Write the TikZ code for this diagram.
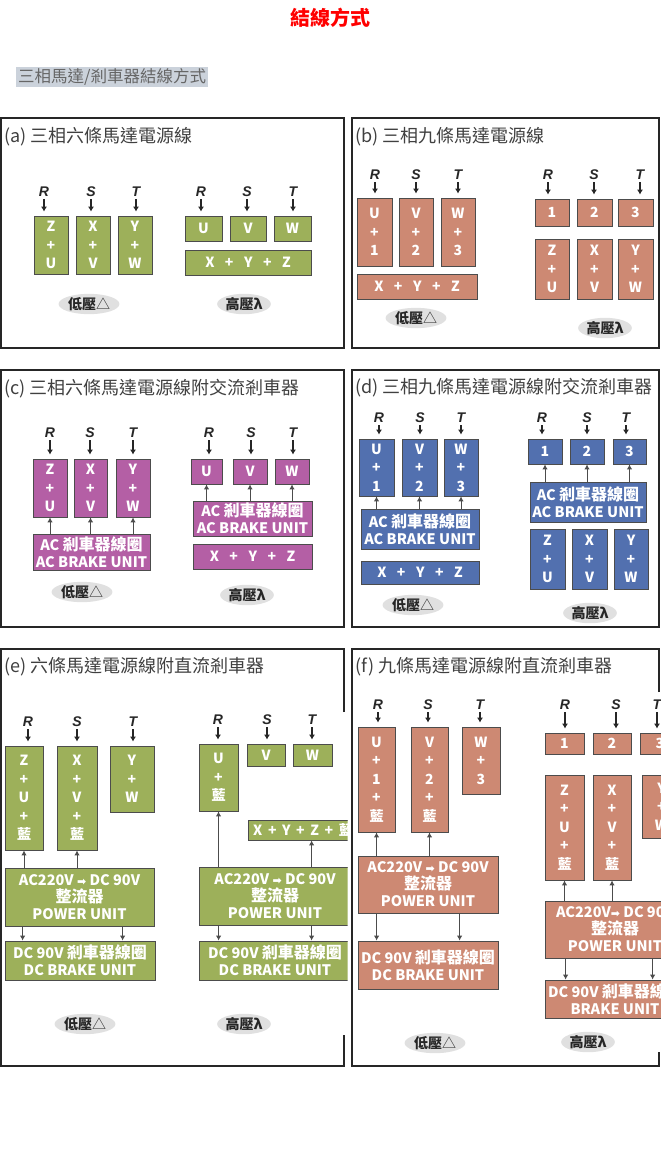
\documentclass[tikz,border=0pt]{standalone}
\usepackage{fontspec}
\usetikzlibrary{arrows.meta,shapes.geometric}
\newfontfamily\cjk{Noto Sans CJK TC}
\newfontfamily\lat{Liberation Sans}
\newfontfamily\dvs{DejaVu Sans}
\definecolor{cgreen}{HTML}{9DB05A}
\definecolor{csalmon}{HTML}{CD8973}
\definecolor{cpurple}{HTML}{B45FA5}
\definecolor{cblue}{HTML}{5270AF}
\definecolor{chl}{HTML}{CBD2DB}
\newcommand\bigzh[1]{{\fontsize{16}{16}\selectfont #1}}
\newcommand\rarr{{\dvs\fontsize{11}{11}\selectfont ➡}}
\newcommand\wgap{\hspace{0.75em}}
\newcommand\ngap{\hspace{0.4em}}
\newcommand\lowtag{{\bfseries 低壓}△}
\newcommand\hightag{{\bfseries 高壓λ}}
\tikzset{
 box/.style={draw=black!70, line width=0.8pt, text=white, font=\cjk\bfseries\fontsize{14}{18.5}\selectfont, align=center, inner sep=0pt},
 gbox/.style={box, fill=cgreen},
 sbox/.style={box, fill=csalmon},
 pbox/.style={box, fill=cpurple},
 bbox/.style={box, fill=cblue},
 unitfont/.style={font=\cjk\bfseries\fontsize{14.5}{17}\selectfont},
 phase/.style={font=\lat\bfseries\itshape\fontsize{14}{14}\selectfont, text=black!85, inner sep=1pt},
 arr/.style={draw=black!70, line width=1pt, -{Latex[length=5pt,width=5.5pt]}},
 feed/.style={draw=black!85, line width=1.4pt, -{Latex[length=5pt,width=6pt]}, shorten >=4pt, shorten <=1pt},
 tag/.style={ellipse, fill=black!12, inner sep=0.5pt, font=\cjk\fontsize{14}{14}\selectfont, text=black!85},
 ptitle/.style={anchor=west, font=\cjk\fontsize{18}{18}\selectfont, text=black!75, inner sep=0pt},
 frame/.style={draw=black!85, line width=1.3pt},
}
\begin{document}
\begin{tikzpicture}[x=1pt,y=-1pt]
\useasboundingbox (0,0) rectangle (661,1170);
\fill[white] (0,0) rectangle (661,1170);

% headings
\node[font=\cjk\bfseries\fontsize{20}{20}\selectfont, text=red] (head) at (330,18) {結線方式};
\node[anchor=west, fill=chl, inner sep=2pt, font=\cjk\fontsize{16.5}{16.5}\selectfont, text=black!60] (sub) at (16,77) {三相馬達/剎車器結線方式};

% frames
\draw[frame] (1,118) rectangle (344,348);
\draw[frame] (352,118) rectangle (659,348);
\draw[frame] (1,370) rectangle (344,627);
\draw[frame] (352,370) rectangle (659,627);
\draw[frame] (344,712) -- (344,649) -- (1,649) -- (1,1066) -- (344,1066) -- (344,1035);
\draw[frame] (659,692) -- (659,649) -- (352,649) -- (352,1066) -- (659,1066) -- (659,1052);

%================ (a)
\node[ptitle] (ta) at (4,137) {(a)\ 三相六條馬達電源線};
\node[phase] (aR1) at (44,192) {R};
\node[phase] (aS1) at (91,192) {S};
\node[phase] (aT1) at (136,192) {T};
\node[gbox, minimum width=34pt, minimum height=58pt] (aZU) at (51,245) {Z\\+\\U};
\node[gbox, minimum width=34pt, minimum height=58pt] (aXV) at (93,245) {X\\+\\V};
\node[gbox, minimum width=34pt, minimum height=58pt] (aYW) at (135,245) {Y\\+\\W};
\node[phase] (aR2) at (201,192) {R};
\node[phase] (aS2) at (247,192) {S};
\node[phase] (aT2) at (293,192) {T};
\node[gbox, minimum width=37pt, minimum height=25pt] (aU) at (203.5,228.5) {U};
\node[gbox, minimum width=36pt, minimum height=25pt] (aV) at (248,228.5) {V};
\node[gbox, minimum width=37pt, minimum height=25pt] (aW) at (292.5,228.5) {W};
\node[gbox, minimum width=126pt, minimum height=25pt] (aXYZ) at (248,262.5) {X\wgap+\wgap Y\wgap+\wgap Z};
\node[tag] (aLow) at (89,304) {\lowtag};
\node[tag] (aHigh) at (244,304) {\hightag};
\foreach \l/\b in {aR1/aZU,aS1/aXV,aT1/aYW,aR2/aU,aS2/aV,aT2/aW}
  \draw[feed] (\l.south) -- (\l.south |- \b.north);

%================ (b)
\node[ptitle] (tb) at (355,137) {(b)\ 三相九條馬達電源線};
\node[phase] (bR1) at (375,175) {R};
\node[phase] (bS1) at (416,175) {S};
\node[phase] (bT1) at (458,175) {T};
\node[sbox, minimum width=35pt, minimum height=68pt] (bU1) at (374.5,232) {U\\+\\1};
\node[sbox, minimum width=34pt, minimum height=68pt] (bV2) at (416,232) {V\\+\\2};
\node[sbox, minimum width=34pt, minimum height=68pt] (bW3) at (458,232) {W\\+\\3};
\node[sbox, minimum width=120pt, minimum height=25pt] (bXYZ) at (417,286.5) {X\wgap+\wgap Y\wgap+\wgap Z};
\node[phase] (bR2) at (548,175) {R};
\node[phase] (bS2) at (594,175) {S};
\node[phase] (bT2) at (640,175) {T};
\node[sbox, minimum width=34pt, minimum height=27pt] (b1) at (552,212.5) {1};
\node[sbox, minimum width=35pt, minimum height=27pt] (b2) at (594.5,212.5) {2};
\node[sbox, minimum width=35pt, minimum height=27pt] (b3) at (635.5,212.5) {3};
\node[sbox, minimum width=34pt, minimum height=60pt] (bZU) at (552,269) {Z\\+\\U};
\node[sbox, minimum width=35pt, minimum height=60pt] (bXV) at (594.5,269) {X\\+\\V};
\node[sbox, minimum width=35pt, minimum height=60pt] (bYW) at (635.5,269) {Y\\+\\W};
\node[tag] (bLow) at (416,318) {\lowtag};
\node[tag] (bHigh) at (605,328) {\hightag};
\foreach \l/\b in {bR1/bU1,bS1/bV2,bT1/bW3,bR2/b1,bS2/b2,bT2/b3}
  \draw[feed] (\l.south) -- (\l.south |- \b.north);

%================ (c)
\node[ptitle] (tc) at (4,389) {(c)\ 三相六條馬達電源線附交流剎車器};
\node[phase] (cR1) at (50,433) {R};
\node[phase] (cS1) at (90,433) {S};
\node[phase] (cT1) at (133,433) {T};
\node[pbox, minimum width=34pt, minimum height=58pt] (cZU) at (50,488) {Z\\+\\U};
\node[pbox, minimum width=33pt, minimum height=58pt] (cXV) at (90.5,488) {X\\+\\V};
\node[pbox, minimum width=34pt, minimum height=58pt] (cYW) at (133,488) {Y\\+\\W};
\node[pbox, unitfont, minimum width=117pt, minimum height=36pt] (cBrk) at (91.5,552) {AC \bigzh{剎車器線圈}\\AC BRAKE UNIT};
\node[phase] (cR2) at (209,433) {R};
\node[phase] (cS2) at (251,433) {S};
\node[phase] (cT2) at (293,433) {T};
\node[pbox, minimum width=31pt, minimum height=25pt] (cU) at (206.5,471.5) {U};
\node[pbox, minimum width=34pt, minimum height=25pt] (cV) at (250,471.5) {V};
\node[pbox, minimum width=34pt, minimum height=25pt] (cW) at (292,471.5) {W};
\node[pbox, unitfont, minimum width=119pt, minimum height=35pt] (cBrk2) at (252.5,518.5) {AC \bigzh{剎車器線圈}\\AC BRAKE UNIT};
\node[pbox, minimum width=119pt, minimum height=25pt] (cXYZ) at (252.5,556.5) {X\wgap+\wgap Y\wgap+\wgap Z};
\node[tag] (cLow) at (82,592) {\lowtag};
\node[tag] (cHigh) at (247,595) {\hightag};
\foreach \l/\b in {cR1/cZU,cS1/cXV,cT1/cYW,cR2/cU,cS2/cV,cT2/cW}
  \draw[feed] (\l.south) -- (\l.south |- \b.north);
\foreach \b in {cZU,cXV,cYW}
  \draw[arr] (\b.south |- cBrk.north) -- (\b.south);
\foreach \b in {cU,cV,cW}
  \draw[arr] (\b.south |- cBrk2.north) -- (\b.south);

%================ (d)
\node[ptitle] (td) at (355,388) {(d)\ 三相九條馬達電源線附交流剎車器};
\node[phase] (dR1) at (379,418) {R};
\node[phase] (dS1) at (420,418) {S};
\node[phase] (dT1) at (461,418) {T};
\node[bbox, minimum width=35pt, minimum height=57pt] (dU1) at (376.5,467.5) {U\\+\\1};
\node[bbox, minimum width=35pt, minimum height=57pt] (dV2) at (419.5,467.5) {V\\+\\2};
\node[bbox, minimum width=34pt, minimum height=57pt] (dW3) at (461,467.5) {W\\+\\3};
\node[bbox, unitfont, minimum width=118pt, minimum height=40pt] (dBrk) at (420,529) {AC \bigzh{剎車器線圈}\\AC BRAKE UNIT};
\node[bbox, minimum width=118pt, minimum height=23pt] (dXYZ) at (420,572.5) {X\wgap+\wgap Y\wgap+\wgap Z};
\node[phase] (dR2) at (542,418) {R};
\node[phase] (dS2) at (587,418) {S};
\node[phase] (dT2) at (626,418) {T};
\node[bbox, minimum width=34pt, minimum height=25pt] (d1) at (545,451.5) {1};
\node[bbox, minimum width=34pt, minimum height=25pt] (d2) at (587,451.5) {2};
\node[bbox, minimum width=33pt, minimum height=25pt] (d3) at (629.5,451.5) {3};
\node[bbox, unitfont, minimum width=116pt, minimum height=40pt] (dBrk2) at (588,502) {AC \bigzh{剎車器線圈}\\AC BRAKE UNIT};
\node[bbox, minimum width=35pt, minimum height=60pt] (dZU) at (547.5,559) {Z\\+\\U};
\node[bbox, minimum width=35pt, minimum height=60pt] (dXV) at (589.5,559) {X\\+\\V};
\node[bbox, minimum width=34pt, minimum height=60pt] (dYW) at (631,559) {Y\\+\\W};
\node[tag] (dLow) at (413,605) {\lowtag};
\node[tag] (dHigh) at (590,613) {\hightag};
\foreach \l/\b in {dR1/dU1,dS1/dV2,dT1/dW3,dR2/d1,dS2/d2,dT2/d3}
  \draw[feed] (\l.south) -- (\l.south |- \b.north);
\foreach \b in {dU1,dV2,dW3}
  \draw[arr] (\b.south |- dBrk.north) -- (\b.south);
\foreach \b in {d1,d2,d3}
  \draw[arr] (\b.south |- dBrk2.north) -- (\b.south);

%================ (e)
\node[ptitle] (te) at (4,667) {(e)\ 六條馬達電源線附直流剎車器};
\node[phase] (eR1) at (28,722) {R};
\node[phase] (eS1) at (77,722) {S};
\node[phase] (eT1) at (133,722) {T};
\node[gbox, minimum width=38pt, minimum height=104pt] (eZU) at (24,798) {Z\\+\\U\\+\\藍};
\node[gbox, minimum width=40pt, minimum height=104pt] (eXV) at (77,798) {X\\+\\V\\+\\藍};
\node[gbox, minimum width=44pt, minimum height=66pt] (eYW) at (132,779) {Y\\+\\W};
\node[gbox, unitfont, minimum width=149pt, minimum height=58pt] (ePU) at (79.5,897) {AC220V \rarr\ DC 90V\\\bigzh{整流器}\\POWER UNIT};
\node[gbox, unitfont, minimum width=150pt, minimum height=39pt] (eDC) at (80,960.5) {DC 90V \bigzh{剎車器線圈}\\DC BRAKE UNIT};
\node[tag] (eLow) at (85,1024) {\lowtag};
\foreach \l/\b in {eR1/eZU,eS1/eXV,eT1/eYW}
  \draw[feed] (\l.south) -- (\l.south |- \b.north);
\foreach \b in {eZU,eXV}
  \draw[arr] (\b.south |- ePU.north) -- (\b.south);
\draw[arr] ([xshift=18pt]ePU.south west) -- ([xshift=18pt]eDC.north west);
\draw[arr] ([xshift=118pt]ePU.south west) -- ([xshift=118pt]eDC.north west);

\begin{scope}
\clip (150,690) rectangle (347.5,1000);
\node[phase] (eR2) at (218,720) {R};
\node[phase] (eS2) at (267,720) {S};
\node[phase] (eT2) at (312,720) {T};
\node[gbox, minimum width=39pt, minimum height=67pt] (eU) at (218.5,777.5) {U\\+\\藍};
\node[gbox, minimum width=38pt, minimum height=22pt] (eV) at (266,755) {V};
\node[gbox, minimum width=39pt, minimum height=22pt] (eW) at (312.5,755) {W};
\node[gbox, minimum width=110pt, minimum height=20pt] (eXYZ) at (303,830) {X\ngap+\ngap Y\ngap+\ngap Z\ngap+\ngap 藍};
\node[gbox, unitfont, minimum width=152pt, minimum height=58pt] (ePU2) at (275,896) {AC220V \rarr\ DC 90V\\\bigzh{整流器}\\POWER UNIT};
\node[gbox, unitfont, minimum width=152pt, minimum height=39pt] (eDC2) at (275,960.5) {DC 90V \bigzh{剎車器線圈}\\DC BRAKE UNIT};
\foreach \l/\b in {eR2/eU,eS2/eV,eT2/eW}
  \draw[feed] (\l.south) -- (\l.south |- \b.north);
\draw[arr] (eU.south |- ePU2.north) -- (eU.south);
\draw[arr] ([xshift=113pt]ePU2.north west) -- ([xshift=64pt]eXYZ.south west);
\draw[arr] ([xshift=20pt]ePU2.south west) -- ([xshift=20pt]eDC2.north west);
\draw[arr] ([xshift=113pt]ePU2.south west) -- ([xshift=113pt]eDC2.north west);
\end{scope}
\node[tag] (eHigh) at (244,1024) {\hightag};

%================ (f)
\node[ptitle] (tf) at (355,667) {(f)\ 九條馬達電源線附直流剎車器};
\node[phase] (fR1) at (378,705) {R};
\node[phase] (fS1) at (428,705) {S};
\node[phase] (fT1) at (480,705) {T};
\node[sbox, minimum width=37pt, minimum height=105pt] (fU1) at (376.5,779.5) {U\\+\\1\\+\\藍};
\node[sbox, minimum width=37pt, minimum height=105pt] (fV2) at (429.5,779.5) {V\\+\\2\\+\\藍};
\node[sbox, minimum width=38pt, minimum height=67pt] (fW3) at (481,760.5) {W\\+\\3};
\node[sbox, unitfont, minimum width=140pt, minimum height=57pt] (fPU) at (428,884.5) {AC220V \rarr\ DC 90V\\\bigzh{整流器}\\POWER UNIT};
\node[sbox, unitfont, minimum width=140pt, minimum height=48pt] (fDC) at (428,965) {DC 90V \bigzh{剎車器線圈}\\DC BRAKE UNIT};
\node[tag] (fLow) at (435,1043) {\lowtag};
\foreach \l/\b in {fR1/fU1,fS1/fV2,fT1/fW3}
  \draw[feed] (\l.south) -- (\l.south |- \b.north);
\foreach \b in {fU1,fV2}
  \draw[arr] (\b.south |- fPU.north) -- (\b.south);
\draw[arr] ([xshift=19pt]fPU.south west) -- ([xshift=19pt]fDC.north west);
\draw[arr] ([xshift=102pt]fPU.south west) -- ([xshift=102pt]fDC.north west);

\begin{scope}
\clip (500,690) rectangle (661,1030);
\node[phase] (fR2) at (565,705) {R};
\node[phase] (fS2) at (616,705) {S};
\node[phase] (fT2) at (657,705) {T};
\node[sbox, minimum width=39pt, minimum height=21pt] (f1) at (564.5,743.5) {1};
\node[sbox, minimum width=38pt, minimum height=21pt] (f2) at (612,743.5) {2};
\node[sbox, minimum width=40pt, minimum height=21pt] (f3) at (660,743.5) {3};
\node[sbox, minimum width=39pt, minimum height=105pt] (fZU) at (564.5,827.5) {Z\\+\\U\\+\\藍};
\node[sbox, minimum width=38pt, minimum height=105pt] (fXV) at (612,827.5) {X\\+\\V\\+\\藍};
\node[sbox, minimum width=39pt, minimum height=63pt] (fYW) at (661.5,806.5) {Y\\+\\W};
\node[sbox, unitfont, minimum width=140pt, minimum height=57pt] (fPU2) at (615,929.5) {AC220V\rarr\ DC 90V\\\bigzh{整流器}\\POWER UNIT};
\node[sbox, unitfont, minimum width=140pt, minimum height=38pt] (fDC2) at (615,999) {DC 90V \bigzh{剎車器線圈}\\BRAKE UNIT};
\foreach \l/\b in {fR2/f1,fS2/f2,fT2/f3}
  \draw[feed] (\l.south) -- (\l.south |- \b.north);
\foreach \b in {fZU,fXV}
  \draw[arr] (\b.south |- fPU2.north) -- (\b.south);
\draw[arr] ([xshift=21pt]fPU2.south west) -- ([xshift=21pt]fDC2.north west);
\draw[arr] ([xshift=108pt]fPU2.south west) -- ([xshift=108pt]fDC2.north west);
\end{scope}
\node[tag] (fHigh) at (588,1042) {\hightag};
\end{tikzpicture}
\end{document}
